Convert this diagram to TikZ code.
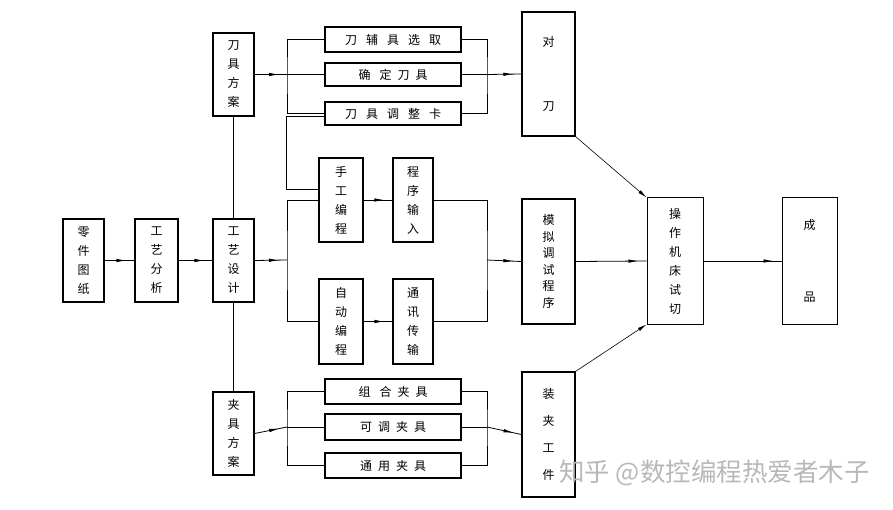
\documentclass[tikz,border=0pt]{standalone}
\usepackage{fontspec}
\newfontfamily\cjk{Noto Sans CJK SC}
\usetikzlibrary{arrows.meta,decorations.markings}
\newcommand{\gp}{\hspace{9pt}}

\tikzset{
	box/.style={draw, line width=1.3pt, inner sep=0pt, align=center,
		font=\cjk\fontsize{12}{19}\selectfont},
	flow/.style={decoration={markings,
		mark=at position -8pt with {\arrow{Latex[length=10pt,width=3.5pt]}}},
		postaction={decorate}},
	link/.style={line width=0.8pt},
	slant/.style={line width=0.6pt, -{Latex[length=9pt,width=3.5pt]}}
}

\begin{document}
\begin{tikzpicture}[x=1pt, y=-1pt]
		%%%%% START %%%%%
		\useasboundingbox[fill=white] (0, 0) rectangle (893, 510);
		
		\node[box, minimum width=41, minimum height=83] (ltu) at (83.5, 260.5) {零\\件\\图\\纸};
		\node[box, minimum width=43, minimum height=83] (fx) at (156.5, 260.5) {工\\艺\\分\\析};
		\node[box, minimum width=41, minimum height=83] (sj) at (233.5, 260.5) {工\\艺\\设\\计};
		\node[box, minimum width=41, minimum height=83] (djfa) at (233.5, 74.5) {刀\\具\\方\\案};
		\node[box, minimum width=41, minimum height=83] (jjfa) at (233.5, 433.5) {夹\\具\\方\\案};
		
		\node[box, minimum width=136, minimum height=25] (xq) at (393, 39.5) {刀\gp 辅\gp 具\gp 选\gp 取};
		\node[box, minimum width=136, minimum height=23] (qd) at (393, 74.5) {确\gp 定\hspace{6pt}刀\hspace{6pt}具};
		\node[box, minimum width=136, minimum height=23] (tzk) at (393, 113.5) {刀\gp 具\gp 调\gp 整\gp 卡};
		\node[box, minimum width=53, minimum height=124] (dd) at (548.5, 74) {对\\[45pt]刀};
		
		\node[box, minimum width=44, minimum height=84] (sg) at (341, 200) {手\\工\\编\\程};
		\node[box, minimum width=40, minimum height=84] (sr) at (413, 200) {程\\序\\输\\入};
		\node[box, minimum width=44, minimum height=85] (zd) at (341, 321.5) {自\\动\\编\\程};
		\node[box, minimum width=40, minimum height=85] (tx) at (413, 321.5) {通\\讯\\传\\输};
		\node[box, minimum width=53, minimum height=125, font=\cjk\fontsize{12}{16.5}\selectfont] (mn) at (548.5, 261.5) {模\\拟\\调\\试\\程\\序};
		
		\node[box, line width=1pt, minimum width=56, minimum height=126, font=\cjk\fontsize{12}{19}\selectfont] (cz) at (675, 261) {操\\作\\机\\床\\试\\切};
		\node[box, line width=1pt, minimum width=55, minimum height=126] (cp) at (809.5, 261) {成\\[53pt]品};
		
		\node[box, minimum width=136, minimum height=25] (zh) at (393, 391.5) {组\gp 合\hspace{6pt}夹\hspace{6pt}具};
		\node[box, minimum width=136, minimum height=26] (kt) at (393, 427) {可\hspace{6pt}调\hspace{6pt}夹\hspace{6pt}具};
		\node[box, minimum width=136, minimum height=25] (ty) at (393, 465.5) {通\hspace{6pt}用\hspace{6pt}夹\hspace{6pt}具};
		\node[box, minimum width=53, minimum height=125, font=\cjk\fontsize{12}{27}\selectfont] (zj) at (548.5, 434.5) {装\\夹\\工\\件};
		
		% bracket points
		\coordinate (b1) at (287, 260);
		\coordinate (b2) at (287, 74.5);
		\coordinate (b3) at (287, 427);
		\coordinate (c1) at (487, 260);
		\coordinate (c2) at (487, 74.5);
		\coordinate (c3) at (487, 427);
		
		% main line
		\draw[link, flow] (ltu.east) -- (fx.west);
		\draw[link, flow] (fx.east) -- (sj.west);
		\draw[link, flow] (sj.east) -- (b1);
		\draw[line width=1.5pt] (djfa.south) -- (sj.north);
		\draw[line width=1.5pt] (sj.south) -- (jjfa.north);
		
		% tools
		\draw[link, flow] (djfa.east) -- (b2);
		\draw[link] (xq.west) -| (b2) |- (tzk.west);
		\draw[link] (b2) -- (qd.west);
		\draw[link] ([yshift=-3pt]tzk.west) -| ([xshift=-32pt, yshift=11pt]sg.west) -- ([yshift=11pt]sg.west);
		\draw[link] (xq.east) -| (c2) |- (tzk.east);
		\draw[link] (qd.east) -- (c2);
		\draw[link, flow] (c2) -- (dd.west);
		
		% programs
		\draw[link] (sg.west) -| (b1) |- (zd.west);
		\draw[link, flow] (sg.east) -- (sr.west);
		\draw[link, flow] (zd.east) -- (tx.west);
		\draw[link] (sr.east) -| (c1) |- (tx.east);
		\draw[link, flow] (c1) -- (mn.west);
		\draw[link, flow] (mn.east) -- (cz.west);
		\draw[link, flow] (cz.east) -- (cp.west);
		
		% fixtures
		\draw[link, flow] (jjfa.east) -- (b3);
		\draw[link] (zh.west) -| (b3) |- (ty.west);
		\draw[link] (b3) -- (kt.west);
		\draw[link] (zh.east) -| (c3) |- (ty.east);
		\draw[link] (kt.east) -- (c3);
		\draw[link, flow] (c3) -- (zj.west);
		
		\draw[slant] (dd.south east) -- (cz.north west);
		\draw[slant] (zj.north east) -- (cz.south west);
		
		\node[anchor=west, inner sep=0pt, text=black!28, font=\cjk\fontsize{25.5}{25.5}\selectfont] (wm) at (559, 473) {知乎 @数控编程热爱者木子};
		%%%%% END %%%%%
	\end{tikzpicture}
\end{document}
